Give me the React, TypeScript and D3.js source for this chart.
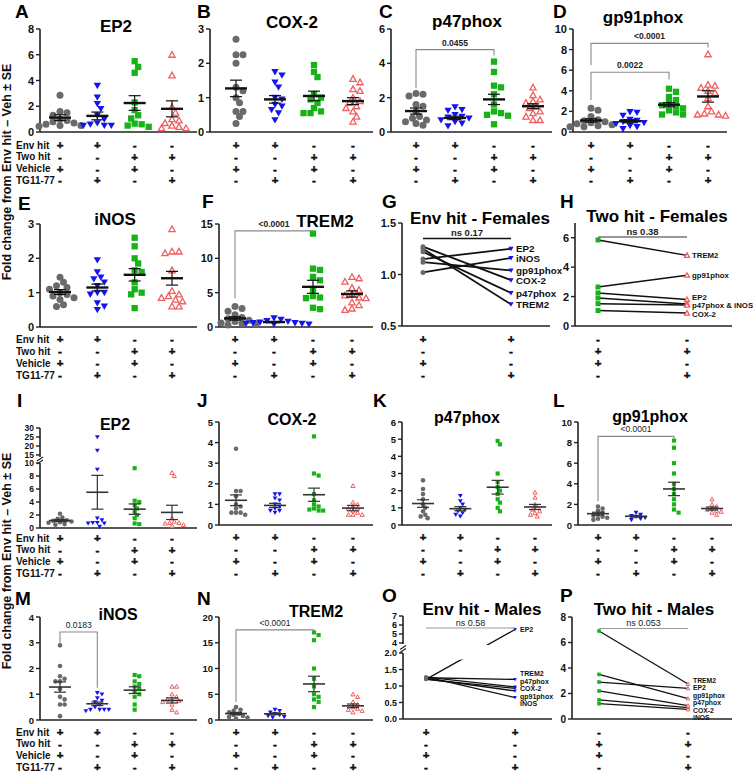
import React from 'react';
import * as d3 from 'd3';

const FONT = '"Liberation Sans", Arial, Helvetica, sans-serif';

// Treatment table shown under every panel
const TABLE_ROWS = ['Env hit', 'Two hit', 'Vehicle', 'TG11-77'];
const TABLE_SIGNS = [
  ['+', '+', '-', '-'],
  ['-', '-', '+', '+'],
  ['+', '-', '+', '-'],
  ['-', '+', '-', '+'],
];
const GROUPS = ['envVeh', 'envTG', 'twoVeh', 'twoTG'];
const GROUP_COLORS = ['#6a6a6a', '#1414ee', '#17b217', '#ef5f5f'];
const GROUP_SHAPES = ['circle', 'triDown', 'square', 'triUp'];

const GENES_PAIRED = ['EP2', 'COX-2', 'p47phox', 'gp91phox', 'iNOS', 'TREM2'];

// ---------- Females ----------
const ep2F = [
  [2.85, 1.6, 1.5, 1.3, 1.0, 0.9, 0.8, 0.7, 0.6, 0.5, 0.5, 0.45],
  [3.6, 2.7, 2.2, 1.8, 1.3, 1.0, 0.7, 0.6, 0.5, 0.5, 0.5],
  [5.5, 5.05, 4.6, 2.3, 1.7, 1.3, 1.05, 0.65, 0.6, 0.5, 0.4],
  [6.0, 4.4, 1.95, 1.5, 1.0, 0.9, 0.7, 0.5, 0.4, 0.3, 0.3],
];
const ep2FMean = [1.12, 1.25, 2.25, 1.8];
const ep2FSe = [0.22, 0.3, 0.57, 0.62];

const cox2F = [
  [2.7, 2.25, 2.25, 2.0, 1.3, 1.2, 1.0, 0.85, 0.6, 0.6, 0.45, 0.25],
  [1.75, 1.65, 1.45, 1.3, 1.0, 0.95, 0.8, 0.75, 0.65, 0.55, 0.35],
  [1.95, 1.75, 1.6, 1.1, 1.0, 0.95, 0.85, 0.7, 0.6, 0.55, 0.55],
  [1.55, 1.45, 1.25, 1.2, 1.0, 0.9, 0.85, 0.75, 0.7, 0.6, 0.45, 0.3],
];
const cox2FMean = [1.27, 0.95, 1.05, 0.9];
const cox2FSe = [0.24, 0.11, 0.14, 0.1];

const p47F = [
  [2.25, 2.2, 2.1, 1.6, 1.5, 1.2, 0.9, 0.8, 0.7, 0.6, 0.5, 0.4],
  [1.45, 1.3, 1.25, 1.0, 0.9, 0.85, 0.8, 0.7, 0.6, 0.5, 0.35],
  [4.1, 3.5, 2.7, 2.6, 2.2, 1.6, 1.2, 1.1, 1.0, 0.95, 0.45],
  [2.6, 2.15, 1.9, 1.8, 1.7, 1.5, 1.4, 1.2, 1.1, 0.9, 0.7, 0.7],
];
const p47FMean = [1.22, 0.82, 1.9, 1.5];
const p47FSe = [0.18, 0.1, 0.3, 0.14];

const gp91F = [
  [2.3, 2.1, 1.5, 1.2, 1.1, 1.0, 0.9, 0.8, 0.7, 0.6, 0.5, 0.5],
  [1.95, 1.9, 1.6, 1.2, 1.1, 1.0, 0.9, 0.8, 0.6, 0.5, 0.3],
  [4.2, 3.9, 3.4, 3.1, 2.8, 2.6, 2.5, 2.3, 2.1, 1.9, 1.7, 1.7],
  [7.55, 4.6, 4.5, 4.3, 4.0, 3.8, 3.3, 2.5, 2.0, 1.8, 1.7, 1.7, 1.6],
];
const gp91FMean = [1.12, 1.05, 2.65, 3.45];
const gp91FSe = [0.17, 0.15, 0.2, 0.55];

const inosF = [
  [1.45, 1.3, 1.2, 1.15, 1.1, 1.0, 0.95, 0.9, 0.85, 0.8, 0.65, 0.6],
  [1.95, 1.6, 1.45, 1.4, 1.3, 1.2, 1.0, 1.0, 0.95, 0.7, 0.6, 0.5],
  [2.6, 2.35, 2.0, 1.85, 1.65, 1.6, 1.3, 1.1, 1.0, 0.95, 0.55],
  [2.85, 2.2, 2.2, 2.15, 1.65, 1.05, 0.95, 0.9, 0.85, 0.8, 0.75, 0.6, 0.6],
];
const inosFMean = [1.02, 1.15, 1.52, 1.42];
const inosFSe = [0.07, 0.1, 0.18, 0.2];

const trem2F = [
  [3.0, 2.7, 2.3, 1.8, 1.4, 1.2, 1.0, 0.8, 0.6, 0.5, 0.4, 0.3],
  [1.3, 1.1, 0.9, 0.8, 0.7, 0.6, 0.6, 0.5, 0.5, 0.4, 0.4],
  [13.6, 8.5, 8.3, 7.3, 6.8, 5.4, 4.5, 4.3, 4.2, 2.8, 2.6],
  [7.3, 7.1, 6.6, 5.7, 5.4, 4.8, 4.6, 4.3, 4.2, 3.6, 3.2, 2.7, 2.5],
];
const trem2FMean = [1.25, 0.72, 5.85, 4.8];
const trem2FSe = [0.25, 0.09, 0.95, 0.45];

// Group means, in GENES_PAIRED order
const envFemVeh = [1.15, 1.27, 1.22, 1.12, 1.02, 1.25];
const envFemTG = [1.25, 0.945, 0.82, 1.04, 1.16, 0.71];
const twoFemVeh = [2.25, 1.05, 1.9, 2.65, 1.52, 5.85];
const twoFemTG = [1.8, 0.88, 1.5, 3.45, 1.42, 4.8];
const envFemLabels = ['EP2', 'COX-2', 'p47phox', 'gp91phox', 'iNOS', 'TREM2'];
const twoFemLabels = ['EP2', 'COX-2', '', 'gp91phox', 'p47phox & iNOS', 'TREM2'];

// ---------- Males ----------
const ep2M = [
  [2.2, 1.6, 1.4, 1.2, 1.1, 1.0, 0.9, 0.8, 0.6, 0.5],
  [25, 17.5, 9.0, 1.5, 1.2, 0.8, 0.8, 0.7, 0.7, 0.2],
  [9.2, 4.2, 4.0, 3.5, 3.0, 2.5, 2.0, 1.5, 0.7, 0.6],
  [8.5, 8.0, 1.5, 1.0, 0.8, 0.8, 0.7, 0.5, 0.3],
];
const ep2MMean = [1.15, 5.5, 2.9, 2.4];
const ep2MSe = [0.17, 2.6, 0.8, 1.1];

const cox2M = [
  [3.7, 1.65, 1.65, 1.4, 1.0, 0.9, 0.8, 0.6, 0.6, 0.6, 0.5],
  [1.5, 1.5, 1.3, 1.2, 1.0, 0.9, 0.8, 0.7, 0.7, 0.6],
  [4.3, 2.5, 2.4, 1.5, 1.2, 1.0, 0.9, 0.8, 0.75, 0.7, 0.7],
  [1.9, 1.1, 1.0, 0.9, 0.8, 0.8, 0.7, 0.6, 0.5, 0.5, 0.5],
];
const cox2MMean = [1.2, 0.95, 1.47, 0.82];
const cox2MSe = [0.26, 0.1, 0.32, 0.13];

const p47M = [
  [2.6, 2.1, 1.8, 1.5, 1.2, 1.0, 0.8, 0.6, 0.5, 0.4],
  [1.7, 1.4, 1.2, 1.0, 0.9, 0.8, 0.7, 0.6, 0.5],
  [4.9, 4.7, 3.0, 2.5, 2.2, 2.0, 1.8, 1.5, 1.3, 1.0, 0.8],
  [1.9, 1.6, 1.2, 1.0, 0.9, 0.8, 0.7, 0.6, 0.5],
];
const p47MMean = [1.25, 0.95, 2.2, 1.05];
const p47MSe = [0.22, 0.12, 0.4, 0.15];

const gp91M = [
  [1.8, 1.6, 1.4, 1.2, 1.0, 0.9, 0.8, 0.7, 0.6, 0.5],
  [1.2, 1.0, 0.9, 0.8, 0.7, 0.6, 0.5],
  [8.2, 7.5, 6.0, 5.0, 4.0, 3.5, 3.0, 2.5, 2.0, 1.5, 1.2],
  [2.5, 2.0, 1.8, 1.6, 1.5, 1.4, 1.3, 1.2, 1.0],
];
const gp91MMean = [1.1, 0.85, 3.5, 1.6];
const gp91MSe = [0.14, 0.09, 0.65, 0.15];

const inosM = [
  [2.9, 2.1, 1.7, 1.6, 1.5, 1.5, 1.2, 0.9, 0.8, 0.6, 0.6, 0.15],
  [1.05, 1.0, 0.85, 0.75, 0.7, 0.6, 0.5, 0.4, 0.4, 0.4, 0.4, 0.35],
  [1.75, 1.7, 1.5, 1.4, 1.3, 1.2, 1.1, 1.0, 0.9, 0.6, 0.4],
  [1.3, 1.3, 1.0, 0.9, 0.8, 0.8, 0.75, 0.7, 0.6, 0.4, 0.3],
];
const inosMMean = [1.28, 0.63, 1.16, 0.76];
const inosMSe = [0.2, 0.07, 0.13, 0.1];

const trem2M = [
  [2.5, 2.0, 1.8, 1.5, 1.2, 1.0, 0.8, 0.6, 0.5, 0.3],
  [2.0, 1.8, 1.5, 1.2, 1.0, 0.8, 0.6, 0.5],
  [17, 16.5, 15.5, 10, 8, 6.5, 5, 4.5, 4, 3.5, 2.5],
  [5.0, 4.5, 3.5, 3.0, 2.5, 2.2, 2.0, 1.8, 1.5],
];
const trem2MMean = [1.25, 1.2, 7.0, 2.75];
const trem2MSe = [0.22, 0.18, 1.5, 0.35];

const envMaleVeh = [1.2, 1.2, 1.27, 1.22, 1.28, 1.25];
const envMaleTG = [5.5, 0.93, 0.97, 0.85, 0.65, 1.2];
const twoMaleVeh = [2.9, 1.5, 2.2, 3.5, 1.2, 6.9];
const twoMaleTG = [2.4, 0.9, 1.05, 1.6, 0.75, 2.75];

type Bracket = { a: number; b: number; label: string; at: number; dropA: number; dropB: number };

interface ScatterSpec {
  letter: string; letterX: number; letterY: number;
  title: string; titleX: number; titleY: number;
  x0: number; x1: number; g0: number; g1: number;
  domain: number[]; range: number[];
  ticks: number[]; tickSize?: number;
  segments?: number[][];
  data: number[][]; mean: number[]; se: number[];
  brackets?: Bracket[]; bracketBold?: boolean;
  tableY: number; tableStep: number; rowLabels?: boolean;
  small?: boolean;
}

// column scatter: nudge points sideways so they do not sit on top of each other
function swarm(vals: number[], y: (v: number) => number, size: number): number[] {
  const xs = new Array(vals.length).fill(0);
  const placed: { x: number; y: number }[] = [];
  const order = vals.map((_, i) => i).sort((a, b) => vals[b] - vals[a]);
  order.forEach((i) => {
    const py = y(vals[i]);
    for (let k = 0; k < 30; k++) {
      const off = k === 0 ? 0 : (k % 2 ? 1 : -1) * Math.ceil(k / 2) * size * 0.5;
      if (placed.every((p) => Math.hypot(p.x - off, p.y - py) >= size * 0.85)) {
        xs[i] = off;
        placed.push({ x: off, y: py });
        break;
      }
    }
  });
  return xs;
}

function Marker({ shape, x, y, s, color }: { shape: string; x: number; y: number; s: number; color: string }) {
  const h = s / 2;
  if (shape === 'circle') return <circle cx={x} cy={y} r={h} fill={color} />;
  if (shape === 'square') return <rect x={x - h * 0.9} y={y - h * 0.9} width={h * 1.8} height={h * 1.8} fill={color} />;
  if (shape === 'triDown')
    return <path d={`M${x - h * 1.05},${y - h * 0.8}L${x + h * 1.05},${y - h * 0.8}L${x},${y + h}Z`} fill={color} />;
  const t = h * 0.9;
  return (
    <path
      d={`M${x - t},${y + t * 0.8}L${x + t},${y + t * 0.8}L${x},${y - t}Z`}
      fill="white"
      stroke={color}
      strokeWidth={s > 5 ? 1.3 : 1}
    />
  );
}

// +/- table under a panel; cols picks which of the four groups are shown
function Table({ xs, cols, y0, step, labels }: {
  xs: (g: string) => number; cols: number[]; y0: number; step: number; labels?: boolean;
}) {
  return (
    <g fontFamily={FONT} fontWeight="bold" fill="#111">
      {TABLE_ROWS.map((row, r) => (
        <g key={row}>
          {labels && (
            <text x={16} y={y0 + r * step} dominantBaseline="middle" fontSize={10}>{row}</text>
          )}
          {cols.map((gi) => (
            <text key={gi} x={xs(GROUPS[gi])} y={y0 + r * step} textAnchor="middle" dominantBaseline="middle"
              fontSize={11.5} stroke="#111" strokeWidth={0.5}>
              {TABLE_SIGNS[r][gi]}
            </text>
          ))}
        </g>
      ))}
    </g>
  );
}

function YAxis({ x0, y, ticks, fmt, segments, size }: {
  x0: number; y: d3.ScaleLinear<number, number>; ticks: number[]; fmt: (v: number) => string;
  segments: number[][]; size: number;
}) {
  return (
    <g>
      {segments.map((s, i) => (
        <line key={i} x1={x0} x2={x0} y1={y(s[0])} y2={y(s[1])} stroke="#222" strokeWidth={1.6} />
      ))}
      {segments.slice(1).map((s, i) => {
        const yb = (y(segments[i][1]) + y(s[0])) / 2;
        return (
          <g key={'b' + i} stroke="#222" strokeWidth={1.2}>
            <line x1={x0 - 3} x2={x0 + 3} y1={yb + 1} y2={yb - 3} />
            <line x1={x0 - 3} x2={x0 + 3} y1={yb + 4} y2={yb} />
          </g>
        );
      })}
      {ticks.map((t) => (
        <g key={t}>
          <line x1={x0 - 4} x2={x0} y1={y(t)} y2={y(t)} stroke="#222" strokeWidth={1.4} />
          <text x={x0 - 6} y={y(t)} textAnchor="end" dominantBaseline="central" fontFamily={FONT}
            fontWeight="bold" fontSize={size} fill="#111">{fmt(t)}</text>
        </g>
      ))}
    </g>
  );
}

function ScatterPanel(p: ScatterSpec) {
  const y = d3.scaleLinear().domain(p.domain).range(p.range);
  const x = d3.scalePoint<string>().domain(GROUPS).range([p.g0, p.g1]);
  const ms = p.small ? 4.6 : 7;
  const segs = p.segments || [[p.domain[0], p.domain[p.domain.length - 1]]];
  const yBot = y(p.domain[0]);
  return (
    <g>
      <text x={p.letterX} y={p.letterY} fontFamily={FONT} fontWeight="bold" fontSize={19}>{p.letter}</text>
      <text x={p.titleX} y={p.titleY} textAnchor="middle" fontFamily={FONT} fontWeight="bold" fontSize={p.small ? 16 : 17}>
        {p.title}
      </text>
      <YAxis x0={p.x0} y={y} ticks={p.ticks} fmt={String} segments={segs}
        size={p.tickSize || (p.small ? 9.5 : 11)} />
      <line x1={p.x0} x2={p.x1} y1={yBot} y2={yBot} stroke="#222" strokeWidth={1.6} />
      {p.data.map((vals, gi) => {
        const offs = swarm(vals, y, ms);
        const cx = x(GROUPS[gi])!;
        return (
          <g key={gi}>
            {vals.map((v, i) => (
              <Marker key={i} shape={GROUP_SHAPES[gi]} x={cx + offs[i]} y={y(v)} s={ms} color={GROUP_COLORS[gi]} />
            ))}
          </g>
        );
      })}
      {p.mean.map((m, gi) => {
        const cx = x(GROUPS[gi])!;
        const lo = y(m - p.se[gi]);
        const hi = y(m + p.se[gi]);
        const col = p.small ? '#333' : '#111';
        return (
          <g key={'m' + gi} stroke={col}>
            <line x1={cx} x2={cx} y1={lo} y2={hi} strokeWidth={1.2} />
            <line x1={cx - 6} x2={cx + 6} y1={lo} y2={lo} strokeWidth={1.2} />
            <line x1={cx - 6} x2={cx + 6} y1={hi} y2={hi} strokeWidth={1.2} />
            <line x1={cx - 11} x2={cx + 11} y1={y(m)} y2={y(m)} strokeWidth={p.small ? 1.6 : 2.4} />
          </g>
        );
      })}
      {(p.brackets || []).map((b, i) => {
        const xa = x(GROUPS[b.a])!;
        const xb = x(GROUPS[b.b])!;
        const yb = y(b.at);
        return (
          <g key={'k' + i}>
            <path d={`M${xa},${y(b.dropA)}V${yb}H${xb}V${y(b.dropB)}`} fill="none" stroke="#8a8a8a" strokeWidth={1.1} />
            <text x={(xa + xb) / 2} y={yb - 4} textAnchor="middle" fontFamily={FONT}
              fontWeight={p.bracketBold ? 'bold' : 'normal'} fontSize={8.5} fill="#222">{b.label}</text>
          </g>
        );
      })}
      <Table xs={(g) => x(g)!} cols={[0, 1, 2, 3]} y0={p.tableY} step={p.tableStep} labels={p.rowLabels} />
    </g>
  );
}

interface PairedSpec {
  letter: string; letterX: number; letterY: number;
  title: string; titleX: number; titleY: number;
  x0: number; x1: number; g0: number; g1: number;
  domain: number[]; range: number[]; ticks: number[]; fmt: (v: number) => string; tickSize: number;
  segments?: number[][];
  left: number[]; right: number[]; labels: string[];
  leftGroup: number; rightGroup: number;
  ns: string; nsAt: number; nsBold?: boolean; nsColor: string;
  labelSize: number; labelGap: number; lineW: number; ms: number;
  tableY: number; tableStep: number;
  breakBand?: number[];
}

// push label positions apart so they keep a minimum gap
function spreadLabels(ys: number[], gap: number): number[] {
  const idx = ys.map((_, i) => i).sort((a, b) => ys[a] - ys[b]);
  const out = ys.slice();
  for (let it = 0; it < 60; it++) {
    for (let k = 1; k < idx.length; k++) {
      const a = idx[k - 1], b = idx[k];
      const d = out[b] - out[a];
      if (d < gap) {
        const push = (gap - d) / 2;
        out[a] -= push;
        out[b] += push;
      }
    }
  }
  return out;
}

function PairedPanel(p: PairedSpec) {
  const y = d3.scaleLinear().domain(p.domain).range(p.range);
  const gl = GROUPS[p.leftGroup];
  const gr = GROUPS[p.rightGroup];
  const x = d3.scalePoint<string>().domain([gl, gr]).range([p.g0, p.g1]);
  const segs = p.segments || [[p.domain[0], p.domain[p.domain.length - 1]]];
  const yBot = y(p.domain[0]);
  const shown = p.labels.map((l, i) => ({ l, i })).filter((d) => d.l);
  const ly = spreadLabels(shown.map((d) => y(p.right[d.i])), p.labelGap);
  const xl = x(gl)!;
  const xr = x(gr)!;
  const clipId = 'clip' + p.letter;
  return (
    <g>
      <text x={p.letterX} y={p.letterY} fontFamily={FONT} fontWeight="bold" fontSize={19}>{p.letter}</text>
      <text x={p.titleX} y={p.titleY} textAnchor="middle" fontFamily={FONT} fontWeight="bold" fontSize={17}>{p.title}</text>
      <YAxis x0={p.x0} y={y} ticks={p.ticks} fmt={p.fmt} segments={segs} size={p.tickSize} />
      <line x1={p.x0} x2={p.x1} y1={yBot} y2={yBot} stroke="#222" strokeWidth={1.6} />
      {p.breakBand && (
        <defs>
          <clipPath id={clipId}>
            <rect x={0} y={0} width={753} height={y(p.breakBand[1])} />
            <rect x={0} y={y(p.breakBand[0])} width={753} height={773} />
          </clipPath>
        </defs>
      )}
      <g clipPath={p.breakBand ? `url(#${clipId})` : undefined}>
        {p.left.map((v, i) => (
          <line key={i} x1={xl} x2={xr} y1={y(v)} y2={y(p.right[i])} stroke="#111" strokeWidth={p.lineW} />
        ))}
      </g>
      {p.left.map((v, i) => (
        <Marker key={'l' + i} shape={GROUP_SHAPES[p.leftGroup]} x={xl} y={y(v)} s={p.ms} color={GROUP_COLORS[p.leftGroup]} />
      ))}
      {p.right.map((v, i) => (
        <Marker key={'r' + i} shape={GROUP_SHAPES[p.rightGroup]} x={xr} y={y(v)} s={p.ms} color={GROUP_COLORS[p.rightGroup]} />
      ))}
      {shown.map((d, k) => (
        <text key={d.l} x={xr + 5} y={ly[k]} dominantBaseline="central" fontFamily={FONT} fontWeight="bold"
          fontSize={p.labelSize} fill="#111">{d.l}</text>
      ))}
      <line x1={xl} x2={xr} y1={y(p.nsAt)} y2={y(p.nsAt)} stroke={p.nsColor} strokeWidth={p.nsBold ? 1.6 : 1.1} />
      <text x={(xl + xr) / 2} y={y(p.nsAt) - 2} textAnchor="middle" fontFamily={FONT}
        fontWeight={p.nsBold ? 'bold' : 'normal'} fontSize={p.nsBold ? 9.5 : 9} fill="#222">{p.ns}</text>
      <Table xs={(g) => x(g) ?? 0} cols={[p.leftGroup, p.rightGroup]} y0={p.tableY} step={p.tableStep} />
    </g>
  );
}

const f1 = d3.format('.1f');

export default function App() {
  const row1 = { range: [132, 29], tableY: 146, tableStep: 11.8 };
  const row2 = { range: [327, 224], tableY: 340, tableStep: 12 };
  const row3 = { range: [525, 422], tableY: 538, tableStep: 12 };
  const row4 = { range: [720, 617], tableY: 733, tableStep: 11.7 };

  const G: PairedSpec = {
    letter: 'G', letterX: 382, letterY: 208, title: 'Env hit - Females', titleX: 480, titleY: 224,
    x0: 402, x1: 550, g0: 423, g1: 511, domain: [0.5, 1.5], range: [326, 223], ticks: [0.5, 1.0, 1.5], fmt: f1,
    tickSize: 11,
    left: envFemVeh, right: envFemTG, labels: envFemLabels, leftGroup: 0, rightGroup: 1,
    ns: 'ns 0.17', nsAt: 1.35, nsBold: true, nsColor: '#111', labelSize: 9.8, labelGap: 9, lineW: 1.8, ms: 5,
    tableY: 340, tableStep: 12,
  };
  const H: PairedSpec = {
    letter: 'H', letterX: 560, letterY: 208, title: 'Two hit - Females', titleX: 657, titleY: 222,
    x0: 575, x1: 732, g0: 598, g1: 687, domain: [0, 7], range: [326, 223], ticks: [0, 2, 4, 6], fmt: String,
    tickSize: 11,
    left: twoFemVeh, right: twoFemTG, labels: twoFemLabels, leftGroup: 2, rightGroup: 3,
    ns: 'ns 0.38', nsAt: 6.05, nsBold: true, nsColor: '#777', labelSize: 7.8, labelGap: 8.5, lineW: 1.5, ms: 5.5,
    tableY: 340, tableStep: 12,
  };
  const O: PairedSpec = {
    letter: 'O', letterX: 382, letterY: 602, title: 'Env hit - Males', titleX: 482, titleY: 615,
    x0: 403, x1: 552, g0: 426, g1: 515, domain: [0, 2, 4, 7], range: [719, 653, 643, 616],
    ticks: [0, 0.5, 1, 1.5, 2, 4, 5, 6, 7], fmt: (v) => (v <= 2 ? f1(v) : String(v)), tickSize: 9,
    segments: [[0, 2], [3.8, 7]], breakBand: [1.8, 3.6],
    left: envMaleVeh, right: envMaleTG, labels: GENES_PAIRED, leftGroup: 0, rightGroup: 1,
    ns: 'ns 0.58', nsAt: 5.67, nsColor: '#999', labelSize: 7, labelGap: 7.5, lineW: 1.3, ms: 3.6,
    tableY: 733, tableStep: 11.7,
  };
  const P: PairedSpec = {
    letter: 'P', letterX: 560, letterY: 602, title: 'Two hit - Males', titleX: 654, titleY: 615,
    x0: 572, x1: 732, g0: 599, g1: 688, domain: [0, 8], range: [719, 617], ticks: [0, 2, 4, 6, 8], fmt: String,
    tickSize: 10,
    left: twoMaleVeh, right: twoMaleTG, labels: GENES_PAIRED, leftGroup: 2, rightGroup: 3,
    ns: 'ns 0.053', nsAt: 7.1, nsColor: '#999', labelSize: 6.8, labelGap: 7.4, lineW: 1.3, ms: 4,
    tableY: 733, tableStep: 11.7,
  };

  return (
    <div style={{ position: 'absolute', left: 0, top: 0, width: 753, height: 773, background: 'white' }}>
      <svg width={753} height={773} viewBox="0 0 753 773">
        <rect width={753} height={773} fill="white" />
        {/* shared y labels */}
        <text transform="translate(11,172) rotate(-90)" textAnchor="middle" fontFamily={FONT} fontWeight="bold"
          fontSize={12.5} fill="#111">Fold change from Env hit – Veh ± SE</text>
        <text transform="translate(11,561) rotate(-90)" textAnchor="middle" fontFamily={FONT} fontWeight="bold"
          fontSize={12.5} fill="#111">Fold change from Env hit – Veh ± SE</text>

        <ScatterPanel letter="A" letterX={15} letterY={18} title="EP2" titleX={116} titleY={32}
          x0={40} x1={197} g0={60} g1={172} domain={[0, 8]} ticks={[0, 2, 4, 6, 8]} {...row1}
          data={ep2F} mean={ep2FMean} se={ep2FSe} rowLabels />
        <ScatterPanel letter="B" letterX={197} letterY={18} title="COX-2" titleX={292} titleY={28}
          x0={210} x1={373} g0={236} g1={353} domain={[0, 3]} ticks={[0, 1, 2, 3]} {...row1}
          data={cox2F} mean={cox2FMean} se={cox2FSe} />
        <ScatterPanel letter="C" letterX={379} letterY={18} title="p47phox" titleX={467} titleY={27}
          x0={391} x1={552} g0={416} g1={533} domain={[0, 6]} ticks={[0, 2, 4, 6]} {...row1}
          data={p47F} mean={p47FMean} se={p47FSe} bracketBold
          brackets={[{ a: 0, b: 2, label: '0.0455', at: 4.8, dropA: 2.55, dropB: 4.45 }]} />
        <ScatterPanel letter="D" letterX={553} letterY={18} title="gp91phox" titleX={643} titleY={23}
          x0={573} x1={727} g0={591} g1={708} domain={[0, 10]} ticks={[0, 2, 4, 6, 8, 10]} {...row1}
          data={gp91F} mean={gp91FMean} se={gp91FSe} bracketBold
          brackets={[
            { a: 0, b: 3, label: '<0.0001', at: 8.6, dropA: 6.5, dropB: 8.2 },
            { a: 0, b: 2, label: '0.0022', at: 5.8, dropA: 3.1, dropB: 5.1 },
          ]} />

        <ScatterPanel letter="E" letterX={18} letterY={210} title="iNOS" titleX={115} titleY={225}
          x0={40} x1={197} g0={60} g1={172} domain={[0, 3]} ticks={[0, 1, 2, 3]} {...row2}
          data={inosF} mean={inosFMean} se={inosFSe} rowLabels />
        <ScatterPanel letter="F" letterX={202} letterY={208} title="TREM2" titleX={325} titleY={227}
          x0={219} x1={373} g0={235} g1={352} domain={[0, 15]} ticks={[0, 5, 10, 15]} {...row2}
          data={trem2F} mean={trem2FMean} se={trem2FSe} bracketBold
          brackets={[{ a: 0, b: 2, label: '<0.0001', at: 14, dropA: 4.2, dropB: 13.9 }]} />
        <PairedPanel {...G} />
        <PairedPanel {...H} />

        <ScatterPanel letter="I" letterX={17} letterY={407} title="EP2" titleX={115} titleY={430}
          x0={40} x1={197} g0={60} g1={172} domain={[0, 10, 15, 30]} range={[528, 463, 455, 428]}
          ticks={[0, 2, 4, 6, 8, 10, 15, 20, 25, 30]} tickSize={8.5} segments={[[0, 10], [13.8, 30]]}
          tableY={539} tableStep={11.7} small data={ep2M} mean={ep2MMean} se={ep2MSe} rowLabels />
        <ScatterPanel letter="J" letterX={197} letterY={407} title="COX-2" titleX={292} titleY={425}
          x0={219} x1={373} g0={236} g1={353} domain={[0, 5]} ticks={[0, 1, 2, 3, 4, 5]} {...row3}
          small data={cox2M} mean={cox2MMean} se={cox2MSe} />
        <ScatterPanel letter="K" letterX={373} letterY={407} title="p47phox" titleX={467} titleY={423}
          x0={402} x1={552} g0={423} g1={535} domain={[0, 6]} ticks={[0, 1, 2, 3, 4, 5, 6]} {...row3}
          small data={p47M} mean={p47MMean} se={p47MSe} />
        <ScatterPanel letter="L" letterX={553} letterY={407} title="gp91phox" titleX={650} titleY={422}
          x0={578} x1={732} g0={598} g1={712} domain={[0, 10]} ticks={[0, 2, 4, 6, 8, 10]} {...row3}
          small data={gp91M} mean={gp91MMean} se={gp91MSe}
          brackets={[{ a: 0, b: 2, label: '<0.0001', at: 8.6, dropA: 2.3, dropB: 8.4 }]} />

        <ScatterPanel letter="M" letterX={15} letterY={605} title="iNOS" titleX={118} titleY={620}
          x0={40} x1={197} g0={60} g1={172} domain={[0, 4]} ticks={[0, 1, 2, 3, 4]} {...row4}
          small data={inosM} mean={inosMMean} se={inosMSe}
          brackets={[{ a: 0, b: 1, label: '0.0183', at: 3.42, dropA: 3.0, dropB: 1.25 }]} rowLabels />
        <ScatterPanel letter="N" letterX={197} letterY={605} title="TREM2" titleX={316} titleY={617}
          x0={219} x1={373} g0={236} g1={353} domain={[0, 20]} ticks={[0, 5, 10, 15, 20]} {...row4}
          small data={trem2M} mean={trem2MMean} se={trem2MSe}
          brackets={[{ a: 0, b: 2, label: '<0.0001', at: 17.5, dropA: 3.5, dropB: 17.3 }]} />
        <PairedPanel {...O} />
        <PairedPanel {...P} />
      </svg>
    </div>
  );
}
